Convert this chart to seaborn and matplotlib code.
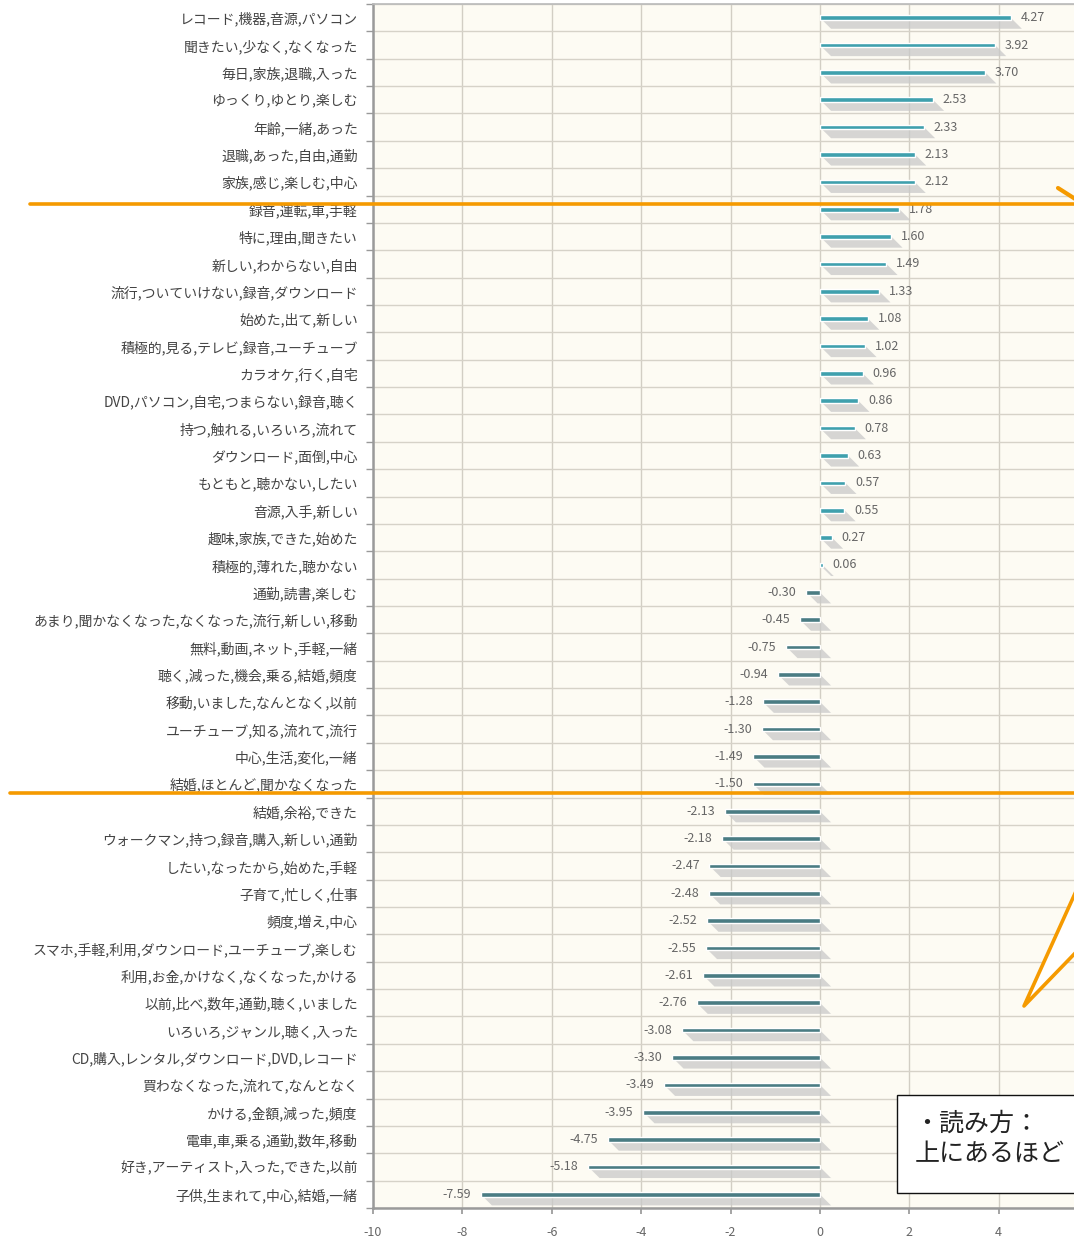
import numpy as np
import pandas as pd
import matplotlib
matplotlib.use("Agg")
import matplotlib.pyplot as plt
import seaborn as sns
from matplotlib.patches import Polygon, Rectangle
from matplotlib.lines import Line2D

# --- data (top to bottom) ---
labels = [
    "レコード,機器,音源,パソコン",
    "聞きたい,少なく,なくなった",
    "毎日,家族,退職,入った",
    "ゆっくり,ゆとり,楽しむ",
    "年齢,一緒,あった",
    "退職,あった,自由,通勤",
    "家族,感じ,楽しむ,中心",
    "録音,運転,車,手軽",
    "特に,理由,聞きたい",
    "新しい,わからない,自由",
    "流行,ついていけない,録音,ダウンロード",
    "始めた,出て,新しい",
    "積極的,見る,テレビ,録音,ユーチューブ",
    "カラオケ,行く,自宅",
    "DVD,パソコン,自宅,つまらない,録音,聴く",
    "持つ,触れる,いろいろ,流れて",
    "ダウンロード,面倒,中心",
    "もともと,聴かない,したい",
    "音源,入手,新しい",
    "趣味,家族,できた,始めた",
    "積極的,薄れた,聴かない",
    "通勤,読書,楽しむ",
    "あまり,聞かなくなった,なくなった,流行,新しい,移動",
    "無料,動画,ネット,手軽,一緒",
    "聴く,減った,機会,乗る,結婚,頻度",
    "移動,いました,なんとなく,以前",
    "ユーチューブ,知る,流れて,流行",
    "中心,生活,変化,一緒",
    "結婚,ほとんど,聞かなくなった",
    "結婚,余裕,できた",
    "ウォークマン,持つ,録音,購入,新しい,通勤",
    "したい,なったから,始めた,手軽",
    "子育て,忙しく,仕事",
    "頻度,増え,中心",
    "スマホ,手軽,利用,ダウンロード,ユーチューブ,楽しむ",
    "利用,お金,かけなく,なくなった,かける",
    "以前,比べ,数年,通勤,聴く,いました",
    "いろいろ,ジャンル,聴く,入った",
    "CD,購入,レンタル,ダウンロード,DVD,レコード",
    "買わなくなった,流れて,なんとなく",
    "かける,金額,減った,頻度",
    "電車,車,乗る,通勤,数年,移動",
    "好き,アーティスト,入った,できた,以前",
    "子供,生まれて,中心,結婚,一緒",
]
scores = [
    4.27, 3.92, 3.70, 2.53, 2.33, 2.13, 2.12, 1.78, 1.60, 1.49, 1.33,
    1.08, 1.02, 0.96, 0.86, 0.78, 0.63, 0.57, 0.55, 0.27, 0.06,
    -0.30, -0.45, -0.75, -0.94, -1.28, -1.30, -1.49, -1.50,
    -2.13, -2.18, -2.47, -2.48, -2.52, -2.55, -2.61, -2.76,
    -3.08, -3.30, -3.49, -3.95, -4.75, -5.18, -7.59,
]
x_ticks = [-10, -8, -6, -4, -2, 0, 2, 4]

W, H = 1074, 1239


def fx(px):
    return px / W


def fy(py):
    return 1 - py / H


sns.set_theme(style="white")
plt.rcParams["font.family"] = ["Noto Sans CJK JP", "DejaVu Sans"]
plt.rcParams["axes.unicode_minus"] = False

df = pd.DataFrame({"label": labels, "score": scores})
df["sign"] = np.where(df["score"] >= 0, "pos", "neg")

fig = plt.figure(figsize=(W / 100, H / 100), dpi=100)
ax = fig.add_axes([fx(373), fy(1208), (1088 - 373) / W, (1208 - 4) / H])
ax.set_facecolor("#fdfbf3")

sns.barplot(data=df, x="score", y="label", hue="sign",
            palette={"pos": "#3fa0ad", "neg": "#4a7c83"},
            width=0.17, dodge=False, legend=False, saturation=1,
            ax=ax, zorder=3)

# slanted drop shadow under every bar
for p in list(ax.patches):
    x0, w = p.get_x(), p.get_width()
    xl, xr = min(x0, x0 + w), max(x0, x0 + w)
    yt = p.get_y() + p.get_height() * 0.5
    yb = p.get_y() + p.get_height() + 0.32
    ax.add_patch(Polygon([(xl, yt), (xr, yt), (xr + 0.25, yb), (xl + 0.25, yb)],
                         closed=True, facecolor="#c9c9c9", edgecolor="none",
                         alpha=0.75, zorder=2))

# value labels
for i, v in enumerate(scores):
    if v >= 0:
        ax.text(v + 0.22, i, f"{v:.2f}", ha="left", va="center",
                fontsize=9, color="#666666", zorder=4)
    else:
        ax.text(v - 0.22, i, f"{v:.2f}", ha="right", va="center",
                fontsize=9, color="#666666", zorder=4)

n = len(labels)
ax.set_xlim(-10, 6)
ax.set_ylim(n - 0.5, -0.5)
ax.set_xticks(x_ticks)
ax.set_yticks(np.arange(-0.5, n, 1), minor=True)
ax.set_axisbelow(True)
ax.grid(axis="x", which="major", color="#d2cec4", lw=1)
ax.grid(axis="y", which="minor", color="#d6d2c8", lw=1)
ax.grid(axis="y", which="major", visible=False)
ax.tick_params(axis="y", which="major", length=0, pad=11,
               labelsize=10, labelcolor="#444444")
ax.tick_params(axis="y", which="minor", length=5, width=1, color="#999999", left=True)
ax.tick_params(axis="x", length=4, color="#999999", pad=9,
               labelsize=9, labelcolor="#666666", bottom=True)
ax.set_xlabel("")
ax.set_ylabel("")
for side in ["left", "bottom"]:
    ax.spines[side].set_color("#9a9a9a")
    ax.spines[side].set_linewidth(1.8)
ax.spines["top"].set_color("#bbbbbb")
ax.spines["right"].set_visible(False)

# --- orange annotations on top of the chart ---
orange = "#f59a00"
fig.add_artist(Line2D([fx(30), fx(1074)], [fy(204), fy(204)], color=orange, lw=2.6))
fig.add_artist(Line2D([fx(10), fx(1074)], [fy(793), fy(793)], color=orange, lw=2.6))
fig.add_artist(Line2D([fx(1058), fx(1080)], [fy(188), fy(202)], color=orange, lw=3,
                      solid_capstyle="round"))
fig.add_artist(Polygon([(fx(1082), fy(878)), (fx(1024), fy(1006)), (fx(1082), fy(946))],
                       closed=True, facecolor="white", edgecolor=orange, lw=2.6,
                       joinstyle="round", transform=fig.transFigure))

fig.add_artist(Rectangle((fx(897), fy(1193)), (1090 - 897) / W, (1193 - 1095) / H,
                         facecolor="white", edgecolor="#111111", lw=1,
                         transform=fig.transFigure))
fig.text(fx(914), fy(1124), "・読み方：", fontsize=18, ha="left", va="center", color="#222222")
fig.text(fx(915), fy(1154), "上にあるほど", fontsize=18, ha="left", va="center", color="#222222")

fig.savefig("out.png", dpi=100, facecolor="white")
